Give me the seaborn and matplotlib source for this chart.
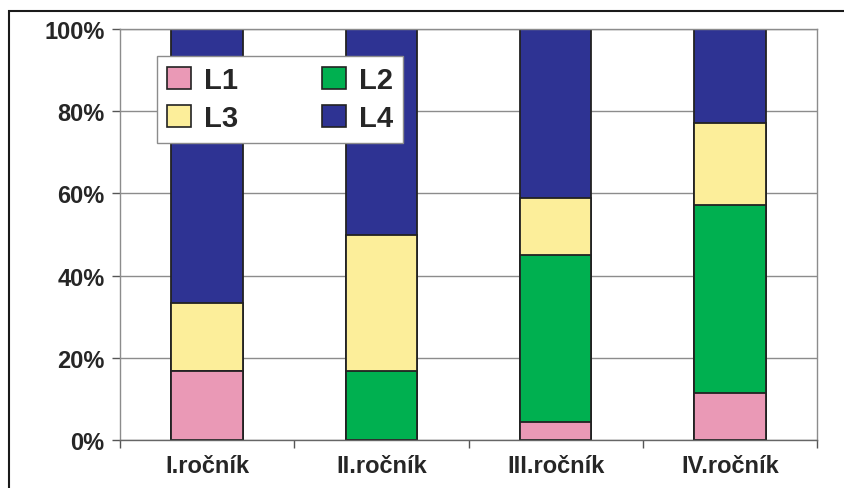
import pandas as pd
import matplotlib.pyplot as plt
import seaborn as sns
from matplotlib.patches import Rectangle, Patch

# data (percent of students per level)
categories = ["I.ročník", "II.ročník", "III.ročník", "IV.ročník"]
series = ["L1", "L2", "L3", "L4"]
l1 = [16.7, 0.0, 4.5, 11.4]
l2 = [0.0, 16.7, 40.5, 45.7]
l3 = [16.6, 33.3, 13.9, 20.0]
l4 = [66.7, 50.0, 41.1, 22.9]
y_ticks = [0, 20, 40, 60, 80, 100]

colors = {"L1": "#EA99B6", "L2": "#00B050", "L3": "#FCEE9A", "L4": "#2E3393"}

df = pd.DataFrame({"rocnik": categories, "L1": l1, "L2": l2, "L3": l3, "L4": l4})
# cumulative tops for stacking
df[["c_" + s for s in series]] = df[series].cumsum(axis=1).values

sns.set_theme(style="white")
plt.rcParams["font.family"] = ["Liberation Sans", "DejaVu Sans"]
plt.rcParams["font.weight"] = "bold"

fig = plt.figure(figsize=(8.44, 4.89), dpi=100)
ax = fig.add_axes([120 / 844, 48 / 489, 697 / 844, 411 / 489])

# draw tallest first so the lower segments sit on top of it
for s in reversed(series):
    sns.barplot(data=df, x="rocnik", y="c_" + s, order=categories, color=colors[s],
                saturation=1, width=0.41, edgecolor="#222222", linewidth=1.3,
                errorbar=None, ax=ax)

ax.set_axisbelow(True)
ax.set_ylim(0, 100)
ax.set_xlim(-0.5, 3.5)
ax.set_yticks(y_ticks)
ax.set_yticklabels([f"{v}%" for v in y_ticks], fontsize=17, fontweight="bold")
ax.yaxis.grid(True, color="#8c8c8c", linewidth=1)
ax.set_xticks(range(len(categories)))
ax.set_xticklabels(categories, fontsize=17, fontweight="bold")
ax.set_xticks([-0.5, 0.5, 1.5, 2.5, 3.5], minor=True)
ax.tick_params(axis="x", which="major", length=0, pad=10)
ax.tick_params(axis="x", which="minor", length=6, width=1, color="#555555", direction="out", bottom=True)
ax.tick_params(axis="y", length=6, width=1, color="#555555", direction="out", left=True, pad=5)
ax.set_xlabel("")
ax.set_ylabel("")
for side in ["left", "bottom", "right", "top"]:
    ax.spines[side].set_color("#8c8c8c")
    ax.spines[side].set_linewidth(1)
ax.spines["bottom"].set_color("#666666")

handles = [Patch(facecolor=colors[s], edgecolor="#222222", linewidth=1.2, label=s) for s in series]
order = [0, 2, 1, 3]
leg = fig.legend([handles[i] for i in order], [series[i] for i in order], ncol=2,
                 loc="upper left", bbox_to_anchor=(157 / 844, 1 - 57 / 489),
                 bbox_transform=fig.transFigure, borderaxespad=0, frameon=True,
                 fancybox=False, edgecolor="#8c8c8c", framealpha=1,
                 prop={"size": 21, "weight": "bold"}, handlelength=0.8, handleheight=0.8,
                 handletextpad=0.45, columnspacing=2.9, labelspacing=0.35, borderpad=0.35)
leg.get_frame().set_linewidth(1)

# outer frame of the original figure
fig.add_artist(Rectangle((9 / 844, -0.1), 1.2, 1 - 12 / 489 + 0.1, transform=fig.transFigure,
                         fill=False, edgecolor="#1a1a1a", linewidth=1.5, clip_on=False))

fig.savefig("out.png", dpi=100)
